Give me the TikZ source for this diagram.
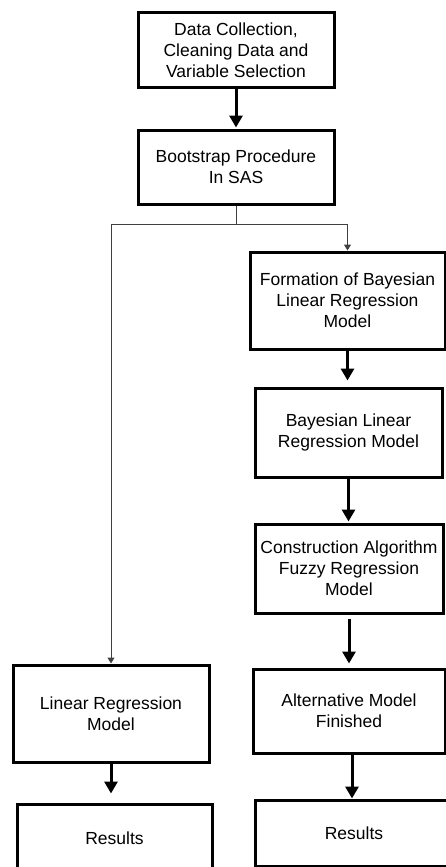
\documentclass[tikz,border=0pt]{standalone}
\usepackage{fontspec}
\setmainfont{Liberation Sans}
\usetikzlibrary{arrows.meta}
\tikzset{
  procbox/.style={draw=black, line width=3pt, fill=white, align=center, inner sep=0pt,
    font=\fontsize{17.5}{21}\selectfont},
  thickarrow/.style={draw=black, line width=3pt, -{Triangle[width=13pt,length=12pt]}},
  thinarrow/.style={draw=black!75, line width=1pt, -{Triangle[width=7pt,length=6pt]}},
  thinline/.style={draw=black!75, line width=1pt}
}
\begin{document}
\begin{tikzpicture}[x=1pt,y=-1pt]
\useasboundingbox (0,0) rectangle (446,867);
\clip (0,0) rectangle (446,867);
\node[procbox, minimum width=196pt, minimum height=74pt] (b1) at (236,50)
  {Data Collection,\\Cleaning Data and\\Variable Selection};
\node[procbox, minimum width=196pt, minimum height=74pt] (b2) at (236,167)
  {Bootstrap Procedure\\In SAS};
\node[procbox, minimum width=195pt, minimum height=97pt] (b3) at (347.5,300.5)
  {Formation of Bayesian\\Linear Regression\\Model};
\node[procbox, minimum width=187pt, minimum height=89pt] (b4) at (348.5,432.5)
  {Bayesian Linear\\Regression Model};
\node[procbox, minimum width=188pt, minimum height=89pt] (b5) at (349,568.5)
  {Construction Algorithm\\Fuzzy Regression\\Model};
\node[procbox, minimum width=192pt, minimum height=84pt] (b6) at (349,711)
  {Alternative Model\\Finished};
\node[procbox, minimum width=198pt, minimum height=66pt] (b7) at (354,833)
  {Results};
\node[procbox, minimum width=196pt, minimum height=97pt] (lr) at (111,713.5)
  {Linear Regression\\Model};
\node[procbox, minimum width=195pt, minimum height=68pt] (r1) at (114.5,838)
  {Results};
\coordinate (j) at (236,224);
\draw[thickarrow, shorten >=1pt] (b1.south) -- (b2.north);
\draw[thinline] (b2.south) -- (j);
\draw[thinarrow] (j) -| (lr.north);
\draw[thinarrow] (j) -| (b3.north);
\draw[thickarrow, shorten >=6pt] (b3.south) -- (b4.north -| b3.south);
\draw[thickarrow, shorten >=1pt] (b4.south) -- (b5.north -| b4.south);
\draw[thickarrow, shorten <=4pt, shorten >=4pt] (b5.south) -- (b6.north -| b5.south);
\draw[thickarrow] ([xshift=3pt]b6.south) -- ([xshift=3pt]b6.south |- b7.north);
\draw[thickarrow, shorten >=9pt] (lr.south) -- (lr.south |- r1.north);
\end{tikzpicture}
\end{document}
